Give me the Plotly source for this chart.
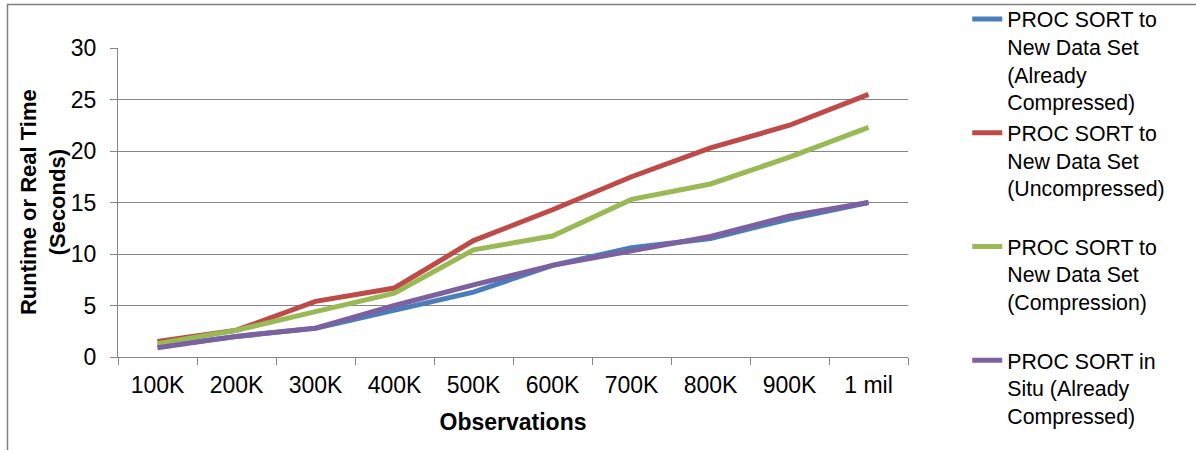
import plotly.graph_objects as go

categories = ["100K", "200K", "300K", "400K", "500K", "600K", "700K", "800K", "900K", "1 mil"]
already_compressed = [1.0, 2.0, 2.8, 4.5, 6.3, 8.9, 10.6, 11.5, 13.4, 15.0]
uncompressed = [1.5, 2.6, 5.4, 6.7, 11.3, 14.3, 17.5, 20.3, 22.5, 25.5]
compression = [1.3, 2.6, 4.4, 6.2, 10.4, 11.75, 15.3, 16.8, 19.4, 22.3]
in_situ = [0.9, 2.0, 2.8, 5.0, 7.0, 8.9, 10.3, 11.7, 13.7, 15.0]

names = [
    "PROC SORT to<br>New Data Set<br>(Already<br>Compressed)",
    "PROC SORT to<br>New Data Set<br>(Uncompressed)<br> ",
    "PROC SORT to<br>New Data Set<br>(Compression)<br> ",
    "PROC SORT in<br>Situ (Already<br>Compressed)",
]
series = [already_compressed, uncompressed, compression, in_situ]
colors = ["#4A7EBB", "#BE4B48", "#98B954", "#7D60A0"]
y_title = "<b>Runtime or Real Time<br>(Seconds)</b>"
x_title = "<b>Observations</b>"

fig = go.Figure()
for n, s, c in zip(names, series, colors):
    fig.add_trace(go.Scatter(x=categories, y=s, name=n, mode="lines",
                             line=dict(color=c, width=5)))

grid = "#868686"
fig.update_layout(
    width=1196, height=450,
    margin=dict(l=118, r=288, t=48, b=93, autoexpand=False),
    plot_bgcolor="white", paper_bgcolor="white",
    font=dict(family="Liberation Sans, Arial, sans-serif", size=23, color="#000000"),
    showlegend=True,
    legend=dict(x=1.075, y=1.16, xanchor="left", yanchor="top", valign="top",
                font=dict(size=21.3), tracegroupgap=0, bgcolor="rgba(0,0,0,0)",
                maxheight=460),
    xaxis=dict(type="category", range=[-0.5, 9.5], showline=True, linecolor=grid, linewidth=1.3,
               ticks="outside", tickson="boundaries", ticklen=7, tickcolor=grid,
               showgrid=False, ticklabelstandoff=7,
               title=dict(text=x_title, font=dict(size=23), standoff=17)),
    yaxis=dict(range=[0, 30], dtick=5, showline=True, linecolor=grid, linewidth=1.3,
               ticks="outside", ticklen=7, tickcolor=grid, ticklabelstandoff=9,
               showgrid=True, gridcolor=grid, gridwidth=1.3),
)

# y-axis title placed as a rotated annotation
fig.add_annotation(text=y_title, xref="paper", yref="paper", x=-0.0955, y=0.5,
                   xanchor="center", yanchor="middle", textangle=-90, showarrow=False,
                   font=dict(size=22))

# chart-area frame (top and left edges visible), drawn as one open path in pixel-aligned paper coords
x_left = (7.5 - 118) / 790
y_top = (357 - 4.5) / 309
fig.add_shape(type="path", xref="paper", yref="paper",
              path=f"M 1.5,{y_top} L {x_left},{y_top} L {x_left},-0.5",
              line=dict(color="#7F7F7F", width=1.5), layer="above")

fig.write_html("out.html", config={"displayModeBar": False},
               post_script="document.body.style.margin='0';")
